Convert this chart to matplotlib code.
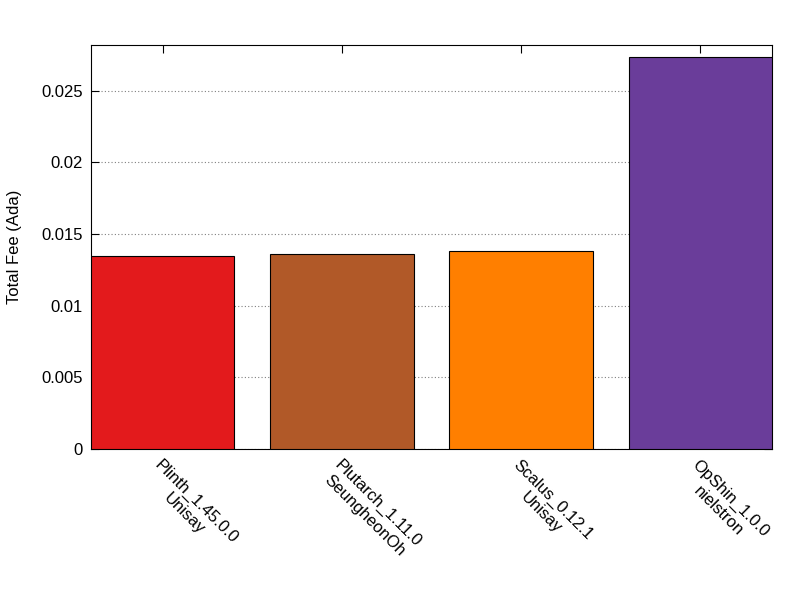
import matplotlib
matplotlib.use("Agg")
import matplotlib.pyplot as plt

plt.rcParams['font.family'] = ['Liberation Sans', 'DejaVu Sans']

# data
labels = ["Plinth_1.45.0.0\nUnisay", "Plutarch_1.11.0\nSeungheonOh",
          "Scalus_0.12.1\nUnisay", "OpShin_1.0.0\nnielstron"]
fees = [0.01348, 0.01362, 0.01383, 0.02737]
colors = ["#e31a1c", "#b15928", "#ff7f00", "#6a3d9a"]

fig = plt.figure(figsize=(8, 6), dpi=100)
ax = fig.add_axes([0.11375, 0.2517, 0.85125, 0.6733])

x = range(len(fees))
ax.bar(x, fees, width=0.8, color=colors, edgecolor="black", linewidth=0.8, zorder=3)

ax.set_xlim(-0.4, 3.4)
ax.set_ylim(0, 0.0282)
ax.set_yticks([0, 0.005, 0.01, 0.015, 0.02, 0.025])
ax.set_yticklabels(["0", "0.005", "0.01", "0.015", "0.02", "0.025"])
ax.yaxis.grid(True, linestyle=(0, (1, 2)), color="gray", linewidth=0.8, zorder=0)
ax.set_xticks(list(x))
ax.set_xticklabels(labels, rotation=-45, ha="left", va="top",
                   rotation_mode="anchor", multialignment="center")
ax.tick_params(axis="both", direction="in", length=6, labelsize=12,
               top=True, right=True, pad=6)
ax.set_ylabel("Total Fee (Ada)", fontsize=12, labelpad=14)

fig.savefig("out.png")
